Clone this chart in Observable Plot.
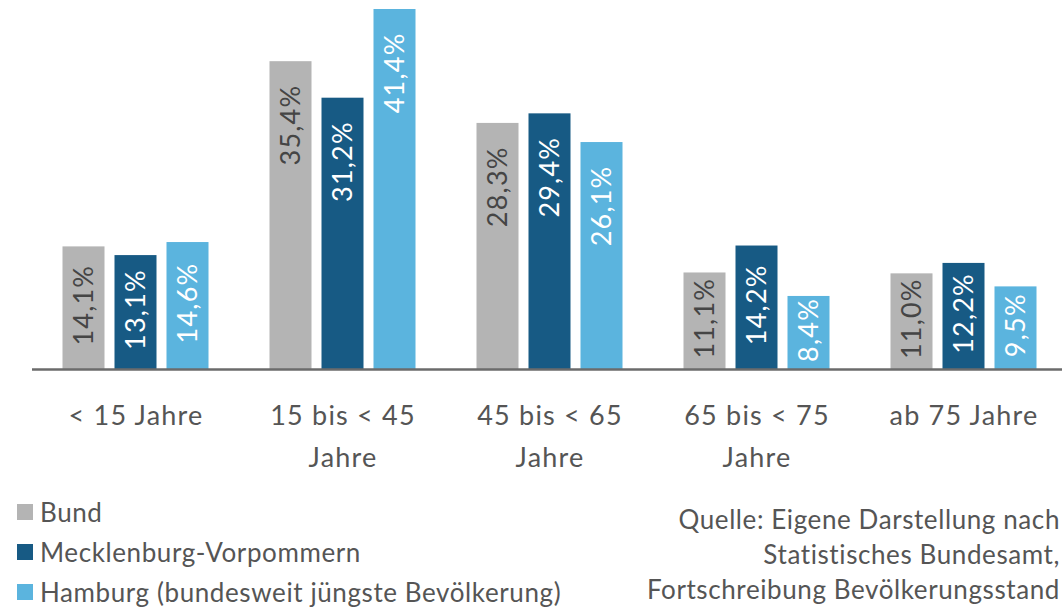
<!DOCTYPE html>
<html>
<head>
<meta charset="utf-8">
<script src="https://cdn.jsdelivr.net/npm/d3@7"></script>
<script src="https://cdn.jsdelivr.net/npm/@observablehq/plot@0.6"></script>
<style>
  html, body { margin: 0; padding: 0; background: #fff; overflow: hidden; width: 1062px; height: 612px; }
  #wrap { position: relative; width: 1062px; height: 612px; font-family: Lato, sans-serif; color: #555; }
  #legend { position: absolute; left: 17px; top: 492px; font-size: 26px; letter-spacing: 0.6px; }
  .li { height: 40px; display: flex; align-items: center; white-space: nowrap; }
  .sw { width: 16px; height: 16px; margin-right: 7px; }
  #caption { position: absolute; right: 2px; top: 502px; font-size: 26px; text-align: right; line-height: 35px; white-space: nowrap; letter-spacing: 0.6px; }
</style>
</head>
<body>
<div id="wrap">
  <div id="chart"></div>
  <div id="legend"></div>
  <div id="caption"></div>
</div>
<script>
const categories = ["< 15 Jahre", "15 bis < 45\nJahre", "45 bis < 65\nJahre", "65 bis < 75\nJahre", "ab 75 Jahre"];
const series = ["Bund", "Mecklenburg-Vorpommern", "Hamburg (bundesweit jüngste Bevölkerung)"];
const colors = ["#b4b4b4", "#175a84", "#5bb4de"];
const labelColors = ["#454545", "#ffffff", "#ffffff"];
const bund = [14.1, 35.4, 28.3, 11.1, 11.0];
const mv = [13.1, 31.2, 29.4, 14.2, 12.2];
const hh = [14.6, 41.4, 26.1, 8.4, 9.5];
const captionLines = ["Quelle: Eigene Darstellung nach", "Statistisches Bundesamt,", "Fortschreibung Bevölkerungsstand"];

const values = [bund, mv, hh];
const data = [];
categories.forEach((c, i) => {
  series.forEach((s, j) => {
    data.push({cat: c, series: s, value: values[j][i], si: j});
  });
});
const fmt = v => v.toFixed(1).replace(".", ",") + "%";
const tall = data.filter(d => d.value > 20);
const short = data.filter(d => d.value <= 20);

const labelOpts = {
  fx: "cat", x: "series",
  text: d => fmt(d.value),
  rotate: -90, lineAnchor: "middle", fontSize: 27,
  fill: d => labelColors[d.si]
};

const plot = Plot.plot({
  width: 1062,
  height: 490,
  marginTop: 9,
  marginBottom: 121,
  marginLeft: 31.5,
  marginRight: 0,
  style: {fontFamily: "Lato, sans-serif", background: "transparent", overflow: "visible", letterSpacing: "1.2px"},
  fx: {domain: categories, padding: 0, range: [31.5, 1067.5], label: null},
  x: {domain: series, axis: null, paddingInner: 0.2, paddingOuter: 0.553},
  y: {domain: [0, 41.4], axis: null},
  color: {domain: series, range: colors},
  marks: [
    Plot.barY(data, {fx: "cat", x: "series", y: "value", fill: "series"}),
    Plot.ruleY([0], {stroke: "#6b6b6b", strokeWidth: 2.5}),
    Plot.text(tall, {...labelOpts, y: "value", textAnchor: "end", dy: 23}),
    Plot.text(short, {...labelOpts, y: d => d.value / 2, textAnchor: "middle", dy: -3}),
    Plot.axisFx({anchor: "bottom", tickSize: 0, tickPadding: 26, fontSize: 27, lineHeight: 1.55, fill: "#555", label: null})
  ]
});
document.getElementById("chart").appendChild(plot);

const legend = document.getElementById("legend");
series.forEach((s, j) => {
  const row = document.createElement("div");
  row.className = "li";
  const sw = document.createElement("div");
  sw.className = "sw";
  sw.style.background = colors[j];
  const t = document.createElement("span");
  t.textContent = s;
  row.appendChild(sw);
  row.appendChild(t);
  legend.appendChild(row);
});
const cap = document.getElementById("caption");
captionLines.forEach(l => {
  const d = document.createElement("div");
  d.textContent = l;
  cap.appendChild(d);
});
</script>
</body>
</html>
